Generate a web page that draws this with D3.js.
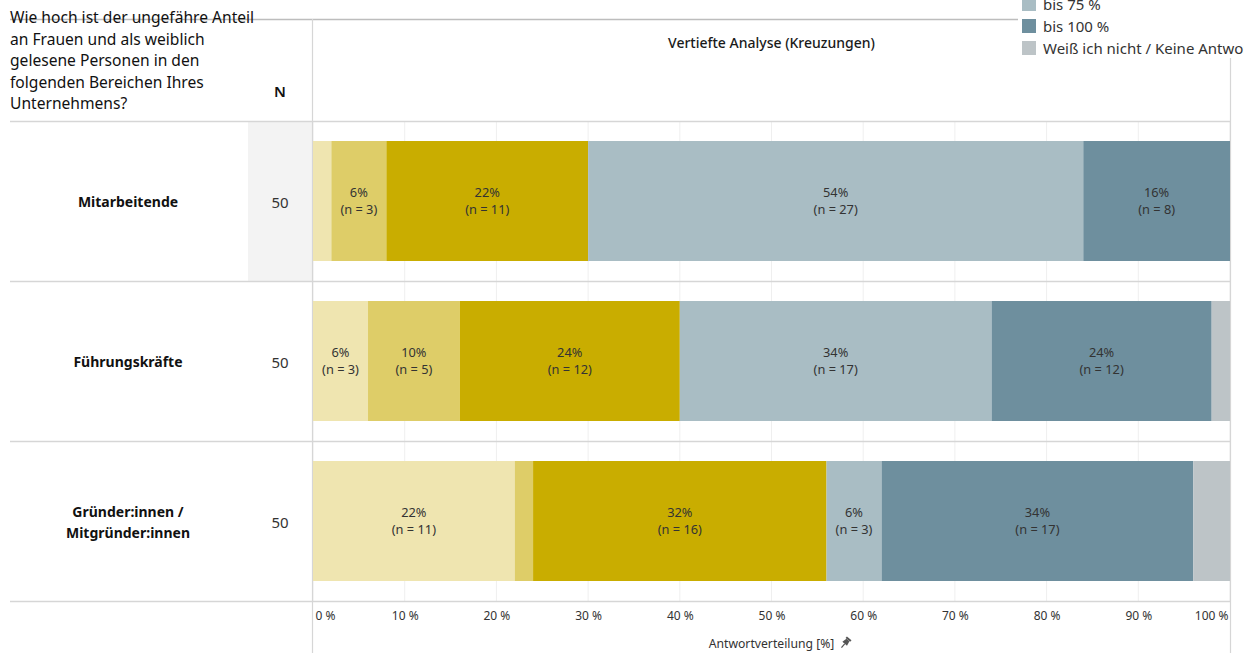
<!DOCTYPE html>
<html>
<head>
<meta charset="utf-8">
<script src="https://cdn.jsdelivr.net/npm/d3@7"></script>
<style>
  html, body { margin: 0; padding: 0; background: #fff; }
  svg { display: block; font-family: "Noto Sans", "Open Sans", sans-serif; }
</style>
</head>
<body>
<svg id="chart" width="1254" height="653"></svg>
<script>
// Response categories (stack order, left to right)
const answers = ["bis 10 %", "bis 25 %", "bis 50 %", "bis 75 %", "bis 100 %", "Weiß ich nicht / Keine Antwort"];
const answerColors = ["#efe5b0", "#decd68", "#c9ad00", "#a9bdc4", "#6e8f9e", "#bdc4c7"];

// Company areas (rows)
const areas = ["Mitarbeitende", "Führungskräfte", "Gründer:innen / Mitgründer:innen"];
const areaLines = [["Mitarbeitende"], ["Führungskräfte"], ["Gründer:innen /", "Mitgründer:innen"]];
const baseN = [50, 50, 50];

// Respondent counts per area and answer
const countsMitarbeitende = [1, 3, 11, 27, 8, 0];
const countsFuehrung = [3, 5, 12, 17, 12, 1];
const countsGruender = [11, 1, 16, 3, 17, 2];
const counts = [countsMitarbeitende, countsFuehrung, countsGruender];

const xTicks = [0, 10, 20, 30, 40, 50, 60, 70, 80, 90, 100];

const questionLines = [
  "Wie hoch ist der ungefähre Anteil",
  "an Frauen und als weiblich",
  "gelesene Personen in den",
  "folgenden Bereichen Ihres",
  "Unternehmens?"
];

const svg = d3.select("#chart");
const plotLeft = 313, plotRight = 1230, headerBottom = 121, tableBottom = 601;

const x = d3.scaleLinear().domain([0, 100]).range([plotLeft, plotRight]);
const y = d3.scaleBand().domain(areas).range([headerBottom, tableBottom])
  .paddingInner(0.25).paddingOuter(0.125);
const rowStep = y.step();
const rowTop = a => y(a) - y.step() * y.paddingInner() / 2;

// Highlighted N cell of the first row
svg.append("rect")
  .attr("x", 248).attr("y", headerBottom).attr("width", plotLeft - 1 - 248).attr("height", rowStep)
  .attr("fill", "#f3f3f3");

// Vertical gridlines
svg.append("g").selectAll("line").data(xTicks).join("line")
  .attr("x1", d => x(d)).attr("x2", d => x(d))
  .attr("y1", headerBottom).attr("y2", tableBottom)
  .attr("stroke", "#efefef").attr("stroke-width", 1);

// Table rules
svg.append("line").attr("x1", 10).attr("x2", 1018).attr("y1", 19.5).attr("y2", 19.5)
  .attr("stroke", "#bdbdbd").attr("stroke-width", 1.5);
const rules = [headerBottom].concat(areas.map(a => rowTop(a) + rowStep));
svg.append("g").selectAll("line").data(rules).join("line")
  .attr("x1", 10).attr("x2", plotRight).attr("y1", d => d + 0.5).attr("y2", d => d + 0.5)
  .attr("stroke", "#d6d6d6").attr("stroke-width", 1.5);
svg.append("line").attr("x1", plotLeft - 0.5).attr("x2", plotLeft - 0.5).attr("y1", 19).attr("y2", 653)
  .attr("stroke", "#d6d6d6").attr("stroke-width", 1.2);
svg.append("line").attr("x1", plotRight + 0.5).attr("x2", plotRight + 0.5).attr("y1", 58).attr("y2", 653)
  .attr("stroke", "#d6d6d6").attr("stroke-width", 1.2);

// Question text
svg.append("text").attr("x", 10).attr("y", 23)
  .attr("font-size", 15.6).attr("fill", "#111")
  .selectAll("tspan").data(questionLines).join("tspan")
  .attr("x", 10).attr("dy", (d, i) => i === 0 ? 0 : 21.5).text(d => d);

svg.append("text").attr("x", 280).attr("y", 97).attr("text-anchor", "middle")
  .attr("font-size", 15).attr("font-weight", 600).attr("fill", "#111").text("N");

svg.append("text").attr("x", (plotLeft + plotRight) / 2).attr("y", 48).attr("text-anchor", "middle")
  .attr("font-size", 14).attr("font-weight", 500).attr("fill", "#1a1a1a").text("Vertiefte Analyse (Kreuzungen)");

// Row labels and N
areas.forEach((a, i) => {
  const cy = rowTop(a) + rowStep / 2;
  const lines = areaLines[i];
  svg.append("text").attr("text-anchor", "middle").attr("font-size", 14).attr("font-weight", 700)
    .attr("fill", "#111")
    .selectAll("tspan").data(lines).join("tspan")
    .attr("x", 128)
    .attr("y", (d, j) => cy + 6 + (j - (lines.length - 1) / 2) * 21)
    .text(d => d);
  svg.append("text").attr("x", 280).attr("y", cy + 6.5).attr("text-anchor", "middle")
    .attr("font-size", 15).attr("fill", "#333").text(baseN[i]);
});

// Stacked bars
const rows = areas.map((a, i) => {
  let acc = 0;
  return counts[i].map((c, k) => {
    const pct = c / baseN[i] * 100;
    const seg = { area: a, k, n: c, pct, x0: acc, x1: acc + pct };
    acc += pct;
    return seg;
  });
});

const barG = svg.append("g");
rows.forEach(segs => {
  const g = barG.append("g");
  g.selectAll("rect").data(segs.filter(s => s.n > 0)).join("rect")
    .attr("x", s => x(s.x0)).attr("width", s => x(s.x1) - x(s.x0))
    .attr("y", s => y(s.area)).attr("height", y.bandwidth())
    .attr("fill", s => answerColors[s.k]);
  const lab = g.selectAll("text").data(segs.filter(s => s.pct >= 5)).join("text")
    .attr("text-anchor", "middle").attr("font-size", 12.8).attr("fill", "#333");
  lab.append("tspan").attr("x", s => (x(s.x0) + x(s.x1)) / 2)
    .attr("y", s => y(s.area) + y.bandwidth() / 2 - 4).text(s => Math.round(s.pct) + "%");
  lab.append("tspan").attr("x", s => (x(s.x0) + x(s.x1)) / 2)
    .attr("y", s => y(s.area) + y.bandwidth() / 2 + 13).text(s => "(n = " + s.n + ")");
});

// X axis
const axis = d3.axisBottom(x).tickValues(xTicks).tickFormat(d => d + " %").tickSize(0).tickPadding(0);
const axisG = svg.append("g").attr("transform", `translate(0, ${tableBottom + 10})`).call(axis);
axisG.select(".domain").remove();
axisG.selectAll("text").attr("font-size", 12).attr("fill", "#333")
  .attr("font-family", "\"Noto Sans\", sans-serif")
  .attr("text-anchor", (d, i) => i === 0 ? "start" : (i === xTicks.length - 1 ? "end" : "middle"))
  .attr("dx", (d, i) => i === 0 ? 2 : (i === xTicks.length - 1 ? -2 : 0));

const titleX = (plotLeft + plotRight) / 2;
const axTitle = svg.append("text").attr("x", titleX).attr("y", 648).attr("text-anchor", "middle")
  .attr("font-size", 12.2).attr("fill", "#333").text("Antwortverteilung [%]");
const tw = axTitle.node().getComputedTextLength();
// Pin icon after the axis title
const pin = svg.append("g").attr("transform", `translate(${titleX + tw / 2 + 11}, 643) rotate(40)`)
  .attr("fill", "#555");
pin.append("rect").attr("x", -3).attr("y", -6).attr("width", 6).attr("height", 2);
pin.append("path").attr("d", "M-2,-4 L2,-4 L3,1 L-3,1 Z");
pin.append("rect").attr("x", -0.6).attr("y", 1).attr("width", 1.2).attr("height", 5);

// Legend (only entries that reach into the canvas are drawn; it runs past the right edge)
svg.append("defs").append("clipPath").attr("id", "legendClip")
  .append("rect").attr("x", 1000).attr("y", -200).attr("width", 244).attr("height", 300);
const legend = svg.append("g").attr("clip-path", "url(#legendClip)");
const legY = k => 49 - (answers.length - 1 - k) * 22;
const legItems = answers.map((d, k) => ({ label: d, k })).filter(e => legY(e.k) > 0);
legend.selectAll("rect").data(legItems).join("rect")
  .attr("x", 1022).attr("y", e => legY(e.k) - 8).attr("width", 14).attr("height", 14)
  .attr("fill", e => answerColors[e.k]);
legend.selectAll("text").data(legItems).join("text")
  .attr("x", 1043).attr("y", e => legY(e.k) + 5)
  .attr("font-size", 15).attr("fill", "#333").text(e => e.label);
</script>
</body>
</html>
